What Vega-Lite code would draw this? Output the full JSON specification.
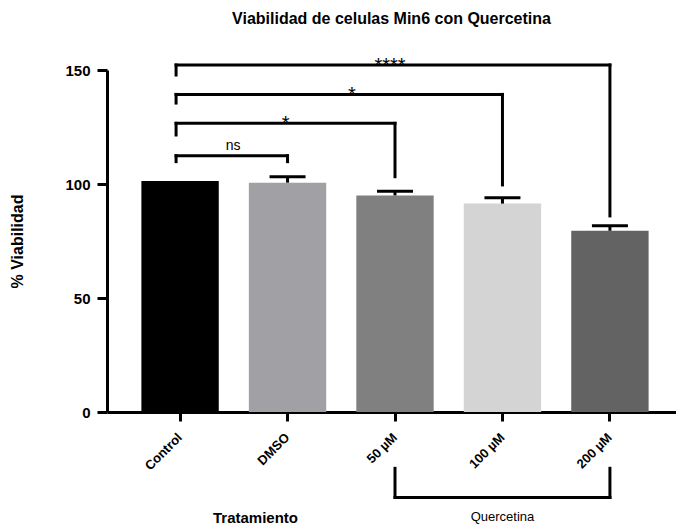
{
  "$schema": "https://vega.github.io/schema/vega-lite/v6.json",
  "width": 569,
  "height": 342,
  "autosize": {"type": "none"},
  "padding": {"left": 107, "top": 70, "right": 0, "bottom": 113},
  "background": "white",
  "config": {"view": {"stroke": null}, "font": "Liberation Sans"},
  "title": {"text": "Viabilidad de celulas Min6 con Quercetina", "fontSize": 16, "fontWeight": "bold", "font": "Liberation Sans", "color": "#000000", "anchor": "middle", "offset": 29},
  "encoding": {
    "x": {
      "field": "t", "type": "nominal", "sort": null,
      "scale": {"domain": ["Control", "DMSO", "50 µM", "100 µM", "200 µM"], "range": [0, 576], "paddingInner": 0.28, "paddingOuter": 0.32},
      "axis": {
        "title": "Tratamiento", "titleFont": "Liberation Sans", "titleFontSize": 15, "titleFontWeight": "bold", "titleColor": "#000000",
        "titleX": 148, "titleY": 105, "titleBaseline": "middle", "titleAlign": "center",
        "labelAngle": -45, "labelAlign": "right", "labelBaseline": "middle", "labelFont": "Liberation Sans", "labelFontSize": 13, "labelFontWeight": "bold", "labelColor": "#000000", "labelPadding": 14,
        "tickSize": 9, "tickWidth": 3, "tickColor": "#000000", "domainWidth": 3, "domainColor": "#000000", "grid": false
      }
    },
    "y": {"type": "quantitative", "scale": {"domain": [0, 150], "nice": false},
      "axis": {"title": "% Viabilidad", "values": [0, 50, 100, 150], "titleFont": "Liberation Sans", "titleFontSize": 16, "titleFontWeight": "bold", "titleColor": "#000000", "titleX": -82, "titleY": 171,
        "labelFont": "Liberation Sans", "labelFontSize": 15, "labelFontWeight": "bold", "labelColor": "#000000", "labelPadding": 7,
        "tickSize": 10, "tickWidth": 3, "tickColor": "#000000", "domainWidth": 3, "domainColor": "#000000", "grid": false}}
  },
  "layer": [
    {
      "data": {"values": [
        {"t": "Control", "y": 101.3},
        {"t": "DMSO", "y": 100.6},
        {"t": "50 µM", "y": 95.0},
        {"t": "100 µM", "y": 91.4},
        {"t": "200 µM", "y": 79.5}
      ]},
      "mark": {"type": "bar"},
      "encoding": {
        "y": {"field": "y"},
        "color": {"field": "t", "type": "nominal", "scale": {"domain": ["Control", "DMSO", "50 µM", "100 µM", "200 µM"], "range": ["#000000", "#a1a1a5", "#808080", "#d4d4d4", "#636363"]}, "legend": null}
      }
    },
    {
      "data": {"values": [
        {"t": "DMSO", "y": 100.6, "y2": 103.2},
        {"t": "50 µM", "y": 95.0, "y2": 96.8},
        {"t": "100 µM", "y": 91.4, "y2": 94.0},
        {"t": "200 µM", "y": 79.5, "y2": 81.7}
      ]},
      "mark": {"type": "rule", "strokeWidth": 3, "color": "#000000"},
      "encoding": {
        "y": {"field": "y"},
        "y2": {"field": "y2"}
      }
    },
    {
      "data": {"values": [
        {"t": "DMSO", "y": 103.2},
        {"t": "50 µM", "y": 96.8},
        {"t": "100 µM", "y": 94.0},
        {"t": "200 µM", "y": 81.7}
      ]},
      "mark": {"type": "tick", "size": 36, "thickness": 3, "color": "#000000", "opacity": 1},
      "encoding": {
        "y": {"field": "y"}
      }
    },
    {
      "data": {"values": [
        {"t": "Control", "b": "DMSO", "y": 112.4},
        {"t": "Control", "b": "50 µM", "y": 126.6},
        {"t": "Control", "b": "100 µM", "y": 139.3},
        {"t": "Control", "b": "200 µM", "y": 152.2}
      ]},
      "mark": {"type": "rule", "strokeWidth": 3, "color": "#000000", "xOffset": -4, "strokeCap": "square"},
      "encoding": {
        "x2": {"field": "b"},
        "y": {"field": "y"}
      }
    },
    {
      "data": {"values": [
        {"t": "Control", "y": 112.4, "y2": 109.8},
        {"t": "Control", "y": 126.6, "y2": 121.5},
        {"t": "Control", "y": 139.3, "y2": 135.5},
        {"t": "Control", "y": 152.2, "y2": 147.8}
      ]},
      "mark": {"type": "rule", "strokeWidth": 3, "color": "#000000", "xOffset": -4, "strokeCap": "square"},
      "encoding": {
        "y": {"field": "y"},
        "y2": {"field": "y2"}
      }
    },
    {
      "data": {"values": [
        {"t": "DMSO", "y": 112.4, "y2": 109.8},
        {"t": "50 µM", "y": 126.6, "y2": 103.2},
        {"t": "100 µM", "y": 139.3, "y2": 99.6},
        {"t": "200 µM", "y": 152.2, "y2": 86.0},
        {"t": "50 µM", "y": -24.7, "y2": -37.5},
        {"t": "200 µM", "y": -24.7, "y2": -37.5}
      ]},
      "mark": {"type": "rule", "strokeWidth": 3, "color": "#000000", "strokeCap": "square"},
      "encoding": {
        "y": {"field": "y"},
        "y2": {"field": "y2"}
      }
    },
    {
      "data": {"values": [
        {"t": "50 µM", "b": "200 µM", "y": -37.5}
      ]},
      "mark": {"type": "rule", "strokeWidth": 3, "color": "#000000", "strokeCap": "square"},
      "encoding": {
        "x2": {"field": "b"},
        "y": {"field": "y"}
      }
    },
    {
      "data": {"values": [{"t": "100 µM", "y": -45.9, "label": "Quercetina"}]},
      "mark": {"type": "text", "fontSize": 13, "font": "Liberation Sans", "color": "#000000", "baseline": "middle", "align": "center"},
      "encoding": {
        "y": {"field": "y"},
        "text": {"field": "label"}
      }
    },
    {
      "data": {"values": [{"t": "50 µM", "y": 152.2, "label": "****"}]},
      "mark": {"type": "text", "fontSize": 20, "font": "Liberation Sans", "color": "#000000", "baseline": "alphabetic", "align": "center", "dx": -5, "dy": 7},
      "encoding": {
        "y": {"field": "y"},
        "text": {"field": "label"}
      }
    },
    {
      "data": {"values": [{"t": "50 µM", "y": 139.3, "label": "*"}]},
      "mark": {"type": "text", "fontSize": 20, "font": "Liberation Sans", "color": "#000000", "baseline": "alphabetic", "align": "center", "dx": -43, "dy": 7},
      "encoding": {
        "y": {"field": "y"},
        "text": {"field": "label"}
      }
    },
    {
      "data": {"values": [{"t": "DMSO", "y": 126.6, "label": "*"}]},
      "mark": {"type": "text", "fontSize": 20, "font": "Liberation Sans", "color": "#000000", "baseline": "alphabetic", "align": "center", "dx": -2, "dy": 7},
      "encoding": {
        "y": {"field": "y"},
        "text": {"field": "label"}
      }
    },
    {
      "data": {"values": [{"t": "Control", "y": 114.9, "label": "ns"}]},
      "mark": {"type": "text", "fontSize": 14, "font": "Liberation Sans", "color": "#000000", "baseline": "alphabetic", "align": "center", "dx": 53},
      "encoding": {
        "y": {"field": "y"},
        "text": {"field": "label"}
      }
    }
  ]
}
